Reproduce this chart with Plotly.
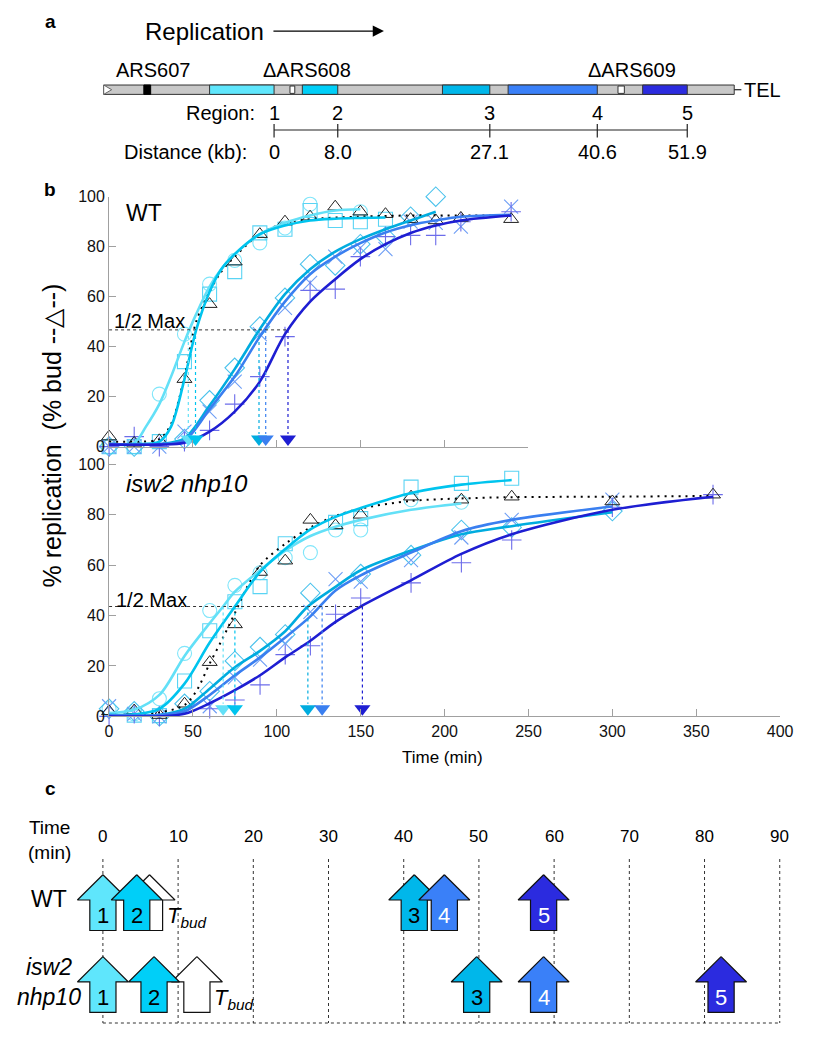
import plotly.graph_objects as go

W, H = 818, 1050
FONT = "Liberation Sans, Arial, sans-serif"

# colours: boxes (a) and arrows (c), fitted curves (b), open data symbols (b)
REGION_FILL = ["#5fe6fc", "#00cff8", "#00b7ea", "#3a80f8", "#2b2bdf"]
CURVE_COLORS = ["#63e0f7", "#00c4ee", "#00acdf", "#3a7ff0", "#1e1ed2"]
MARKER_COLORS = ["#80e6fa", "#5ad4f4", "#4ac2ec", "#6e9ef5", "#6c6cea"]
SYMBOLS = ["circle-open", "square-open", "diamond-open", "x-thin-open", "cross-thin-open"]

# ---------------- panel a : map, kb measured from region 1
REGIONS = ["1", "2", "3", "4", "5"]
DIST_KB = [0, 8.0, 27.1, 40.6, 51.9]
DIST_LABELS = ["0", "8.0", "27.1", "40.6", "51.9"]
REGION_START_KB = [-8.1, 3.55, 21.15, 29.4, 46.3]
CHROM_KB = [-21.4, 57.8]
ARS607_KB = [-16.36, -15.5]
DELETION_KB = [[2.0, 2.6], [43.2, 44.0]]
ARS_LABELS = ["ARS607", "ΔARS608", "ΔARS609"]
ARS_LABEL_KB = [-15.2, 4.1, 45.0]

# ---------------- panel b : % replication, WT
WT_TIME = [0, 15, 30, 45, 60, 75, 90, 105, 120, 135, 150, 165, 180, 195, 210, 240]
WT_R1 = [0, 0, 21, 45, 65, 74.5, 81.5, 87.5, 97, 100.5, 94, None, None, None, None, None]
WT_R2 = [0, 0, 2, 34, 61, 70, 85.5, 87, 94.5, 90.5, 90, 91, None, None, None, None]
WT_R3 = [0, 0, -1, 3, 18.5, 31.5, 48, 59.5, 73, 72.5, 81, 84, 92, 100, None, None]
WT_R4 = [0, 0, 0, 6, 14, 26, 45, 55.5, 65.5, 76, 79.5, 79, 90, 89.5, 88, 96]
WT_R5 = [0, 4, 0, 2, 6.5, 17, 28, 44, 62.5, 63, 76, 84, 84.5, 84.5, 90, 94]
WT_BUD = [4, 1.5, 2.5, 27, 57, 74, 85, 90, 92, 96, 94, 93, 91, 90.5, 91.5, 91]

WT_FIT1_T = [0, 15, 22, 30, 37, 45, 52, 60, 67, 75, 90, 105, 120, 135, 150]
WT_FIT1_V = [0.8, 1.5, 8, 17, 28, 42, 53, 64, 71, 77, 85, 89.5, 92.5, 94.5, 95]
WT_FIT2_T = [0, 15, 30, 37, 45, 52, 60, 67, 75, 90, 105, 120, 135, 150, 165]
WT_FIT2_V = [1, 1, 2, 8, 27, 46.7, 62, 71, 77, 85, 88.5, 90.5, 91.2, 91.5, 91.7]
WT_FIT3_T = [0, 30, 45, 60, 75, 90, 105, 120, 135, 150, 165, 180, 195]
WT_FIT3_V = [1, 1, 3.3, 16.4, 31, 47, 61, 71, 78, 83, 87, 90.5, 94]
WT_FIT4_T = [0, 30, 45, 60, 75, 90, 105, 120, 135, 150, 165, 180, 195, 210, 240]
WT_FIT4_V = [1, 1, 2.5, 15, 28, 44, 58, 69, 76, 81.4, 85.7, 88.6, 90.5, 92, 92.8]
WT_FIT5_T = [0, 30, 45, 60, 75, 90, 105, 120, 135, 150, 165, 180, 195, 210, 240]
WT_FIT5_V = [0.8, 0.8, 1.5, 6, 14, 26, 45, 58, 67, 75, 81, 85.5, 88.5, 90.5, 92.5]
WT_BUDFIT_T = [0, 15, 30, 37, 45, 52, 60, 67, 75, 90, 105, 120, 150, 180, 210, 240]
WT_BUDFIT_V = [2, 2, 3, 9, 28, 50, 62, 70, 76, 85, 89.5, 91, 92, 92.5, 92.5, 92.5]

WT_HALF = 46.7
WT_HALF_T = [47.3, 51.6, 89.5, 93.5, 106.8]

# ---------------- panel b : % replication, isw2 nhp10
MUT_TIME = [0, 15, 30, 45, 60, 75, 90, 105, 120, 135, 150, 180, 210, 240, 300, 360]
MUT_R1 = [3, 1, 7, 25, 42, 52, 57, 63, 65, 74, 74, 86, 85, None, None, None]
MUT_R2 = [-0.5, 0.5, 0.3, 14, 34, 45.5, 51.5, 68.5, None, 77, 78.5, 91, 92.5, 94.5, None, None]
MUT_R3 = [3, 2, 0, 5, 10, 22, 27.5, 32.5, 49, None, 56.5, 64, 74, 75, 81.5, None]
MUT_R4 = [4, 1, 0, -0.5, 4, 15.5, 22.5, 29, 41.5, 54.5, 53.5, 62, 71, 78, 86, None]
MUT_R5 = [0, 1, 0, -1, 3, 6.5, 12.5, 24.5, 28, 40.5, 47, 53, 61, 70, 83, 88]
MUT_BUD = [2, 2.3, 0.5, 5, 21.5, 36.5, 57.3, 61.8, 78, 75.8, 80, 87.2, 86, 87.2, 85.3, 88]

MUT_FIT1_T = [0, 15, 30, 45, 60, 68, 75, 90, 105, 120, 135, 150, 180, 210]
MUT_FIT1_V = [1.3, 2.6, 8.5, 24, 37, 43.6, 49.5, 58, 65.8, 71.6, 75.3, 78, 82, 84.5]
MUT_FIT2_T = [0, 15, 30, 45, 60, 75, 90, 105, 120, 135, 150, 180, 210, 240]
MUT_FIT2_V = [0.5, 0.8, 3, 13, 29.3, 43.6, 57.3, 66.4, 74.2, 79.2, 82.7, 88.7, 92, 93.8]
MUT_FIT3_T = [0, 30, 45, 60, 75, 90, 105, 118.5, 135, 150, 180, 210, 240, 300]
MUT_FIT3_V = [0.5, 0.5, 3, 11, 19.5, 26, 33.8, 43.6, 51.4, 58, 65.8, 72.3, 75.5, 81]
MUT_FIT4_T = [0, 30, 45, 60, 75, 90, 105, 120, 135, 150, 180, 210, 240, 300]
MUT_FIT4_V = [0.5, 0.5, 2, 8.5, 16.3, 23.4, 31.3, 39.7, 50, 56, 65, 73.5, 78, 83.3]
MUT_FIT5_T = [0, 30, 45, 60, 75, 90, 105, 120, 135, 150, 180, 210, 240, 300, 360]
MUT_FIT5_V = [0, 0, 1, 5.2, 10.4, 16.3, 23.4, 30, 37.5, 43.6, 54, 64.5, 72.3, 82, 87.2]
MUT_BUDFIT_T = [0, 15, 30, 45, 52, 60, 67, 75, 82, 90, 105, 120, 135, 150, 180, 210, 240, 300, 360]
MUT_BUDFIT_V = [0.5, 0.8, 1.5, 4.5, 10, 21, 30, 41, 51, 60, 68.5, 75, 79.5, 82.5, 85.5, 86.5, 87, 87.2, 87.5]

MUT_HALF = 43.6
MUT_HALF_T = [68, 75, 118.5, 127, 151]

# ---------------- panel c : time of half-max replication relative to region 1
WT_SHIFT = [0, 4.5, 41.4, 45.4, 58.6]
WT_TBUD = 6.2
MUT_SHIFT = [0, 6.8, 49.7, 58.6, 82.2]
MUT_TBUD = 12.5
C_TICKS = [0, 10, 20, 30, 40, 50, 60, 70, 80, 90]


def fx(px):
    return px / W


def fy(py):
    return 1 - py / H


fig = go.Figure()

# ---------- panel b traces
def add_growth(xa, ya, time, marks, bud, fits, budfit, half, half_t):
    for i, vals in enumerate(marks):
        fig.add_trace(go.Scatter(
            x=time, y=vals, mode="markers", xaxis=xa, yaxis=ya, cliponaxis=False,
            marker=dict(symbol=SYMBOLS[i], size=14 if i != 2 else 15, color=MARKER_COLORS[i],
                        line=dict(width=1.1, color=MARKER_COLORS[i]))))
    fig.add_trace(go.Scatter(
        x=time, y=bud, mode="markers", xaxis=xa, yaxis=ya, cliponaxis=False,
        marker=dict(symbol="triangle-up-open", size=13, color="#222",
                    line=dict(width=1, color="#222"))))
    fig.add_trace(go.Scatter(
        x=budfit[0], y=budfit[1], mode="lines", xaxis=xa, yaxis=ya,
        line=dict(color="black", width=2, dash="2px,5px", shape="spline", smoothing=0.9)))
    for i, (t, v) in enumerate(fits):
        fig.add_trace(go.Scatter(
            x=t, y=v, mode="lines", xaxis=xa, yaxis=ya, cliponaxis=False,
            line=dict(color=CURVE_COLORS[i], width=2.6, shape="spline", smoothing=0.9)))
    # half max guide
    fig.add_trace(go.Scatter(
        x=[0, max(half_t)], y=[half, half], mode="lines", xaxis=xa, yaxis=ya,
        line=dict(color="#333", width=1, dash="dot")))
    for i, t in enumerate(half_t):
        fig.add_trace(go.Scatter(
            x=[t, t], y=[half, 5], mode="lines", xaxis=xa, yaxis=ya,
            line=dict(color=CURVE_COLORS[i], width=1.2, dash="dot")))
        fig.add_trace(go.Scatter(
            x=[t], y=[3], mode="markers", xaxis=xa, yaxis=ya, cliponaxis=False,
            marker=dict(symbol="triangle-down", size=14, color=CURVE_COLORS[i])))


add_growth("x", "y", WT_TIME, [WT_R1, WT_R2, WT_R3, WT_R4, WT_R5], WT_BUD,
           [(WT_FIT1_T, WT_FIT1_V), (WT_FIT2_T, WT_FIT2_V), (WT_FIT3_T, WT_FIT3_V),
            (WT_FIT4_T, WT_FIT4_V), (WT_FIT5_T, WT_FIT5_V)],
           (WT_BUDFIT_T, WT_BUDFIT_V), WT_HALF, WT_HALF_T)
add_growth("x2", "y2", MUT_TIME, [MUT_R1, MUT_R2, MUT_R3, MUT_R4, MUT_R5], MUT_BUD,
           [(MUT_FIT1_T, MUT_FIT1_V), (MUT_FIT2_T, MUT_FIT2_V), (MUT_FIT3_T, MUT_FIT3_V),
            (MUT_FIT4_T, MUT_FIT4_V), (MUT_FIT5_T, MUT_FIT5_V)],
           (MUT_BUDFIT_T, MUT_BUDFIT_V), MUT_HALF, MUT_HALF_T)

# ---------- panel c : dotted time grid + arrows (y3 is measured in page pixels)
GRID_TOP, GRID_BOT = 865, 1031.7
gx, gy = [], []
for t in C_TICKS:
    gx += [t, t, None]
    gy += [GRID_TOP, GRID_BOT, None]
gx += [C_TICKS[0], C_TICKS[-1]]
gy += [GRID_BOT, GRID_BOT]
fig.add_trace(go.Scatter(x=gx, y=gy, mode="lines", xaxis="x3", yaxis="y3",
                         line=dict(color="#333", width=1, dash="dot")))

HEAD_HW, SHAFT_HW = 3.39, 1.74     # minutes
HEAD_H, SHAFT_H = 25.7, 31.0       # pixels


def arrow(t, tip, fill):
    sh, bt = tip + HEAD_H, tip + HEAD_H + SHAFT_H
    xs = [t, t + HEAD_HW, t + SHAFT_HW, t + SHAFT_HW, t - SHAFT_HW, t - SHAFT_HW, t - HEAD_HW, t]
    ys = [tip, sh, sh, bt, bt, sh, sh, tip]
    fig.add_trace(go.Scatter(x=xs, y=ys, mode="lines", fill="toself", fillcolor=fill,
                             xaxis="x3", yaxis="y3", line=dict(color="#111", width=1.2)))


def note(x, y, text, size, xref="paper", yref="y3", xanchor="center", **kw):
    d = dict(x=x, y=y, xref=xref, yref=yref, text=text, showarrow=False,
             xanchor=xanchor, yanchor="middle", font=dict(size=size, color=kw.pop("color", "black")))
    d.update(kw)
    return d


ROW_TIP = {"wt": 881, "mut": 964.3}
annotations = []
for key, shifts, tbud in (("wt", WT_SHIFT, WT_TBUD), ("mut", MUT_SHIFT, MUT_TBUD)):
    tip = ROW_TIP[key]
    arrow(tbud, tip, "white")
    annotations.append(note(tbud + 2.0, tip + 43, "<i>T<sub>bud</sub></i>", 22,
                            xref="x3", xanchor="left"))
    for i, t in enumerate(shifts):
        arrow(t, tip, REGION_FILL[i])
        annotations.append(note(t, tip + 41, REGIONS[i], 22, xref="x3",
                                color="black" if i < 3 else "white"))

for t in C_TICKS:
    annotations.append(note(t, 841.7, str(t), 17, xref="x3"))

# ---------- panel a : chromosome map
shapes = []
BAR_T, BAR_B = 78.3, 87.8
BAR_MID = (BAR_T + BAR_B) / 2
shapes.append(dict(type="rect", xref="x4", yref="y3", x0=CHROM_KB[0], x1=CHROM_KB[1],
                   y0=BAR_T, y1=BAR_B, fillcolor="#c8c8c8", line=dict(color="#333", width=1)))
shapes.append(dict(type="path", xref="x4", yref="y3",
                   path=f"M {CHROM_KB[0]},{BAR_T} L {CHROM_KB[0] + 1.0},{BAR_MID} "
                        f"L {CHROM_KB[0]},{BAR_B} Z",
                   fillcolor="white", line=dict(color="#666", width=1)))
shapes.append(dict(type="rect", xref="x4", yref="y3", x0=ARS607_KB[0], x1=ARS607_KB[1],
                   y0=BAR_T, y1=BAR_B, fillcolor="black", line=dict(color="black", width=1)))
for x0, x1 in DELETION_KB:
    shapes.append(dict(type="rect", xref="x4", yref="y3", x0=x0, x1=x1, y0=BAR_T + 1, y1=BAR_B - 1,
                       fillcolor="white", line=dict(color="#333", width=1)))
for i in range(5):
    shapes.append(dict(type="rect", xref="x4", yref="y3", x0=REGION_START_KB[i], x1=DIST_KB[i],
                       y0=BAR_T, y1=BAR_B, fillcolor=REGION_FILL[i],
                       line=dict(color="#333", width=1)))
shapes.append(dict(type="line", xref="x4", yref="y3", x0=CHROM_KB[1], x1=CHROM_KB[1] + 0.9,
                   y0=BAR_MID, y1=BAR_MID, line=dict(color="#222", width=1.2)))
# region / distance scale
shapes.append(dict(type="line", xref="x4", yref="y3", x0=DIST_KB[0], x1=DIST_KB[-1],
                   y0=124, y1=124, line=dict(color="#222", width=1.2)))
for d in DIST_KB:
    shapes.append(dict(type="line", xref="x4", yref="y3", x0=d, x1=d, y0=118, y1=131.7,
                       line=dict(color="#222", width=1.2)))

for lab, kb in zip(ARS_LABELS, ARS_LABEL_KB):
    annotations.append(note(kb, 63, lab, 20, xref="x4"))
for i in range(5):
    annotations.append(note(DIST_KB[i], 106.7, REGIONS[i], 20, xref="x4"))
    annotations.append(note(DIST_KB[i], 146.5, DIST_LABELS[i], 20, xref="x4"))
annotations += [
    note(CHROM_KB[1] + 1.0, BAR_MID, "TEL", 20, xref="x4", xanchor="left"),
    note(fx(258.8), 106.7, "Region:", 20, xanchor="right"),
    note(fx(250.5), 146.5, "Distance (kb):", 20, xanchor="right"),
    note(fx(204.5), 23.5, "Replication", 24),
    dict(x=fx(388), y=23.5, xref="paper", yref="y3", ax=-112, ay=0, text="", showarrow=True,
         arrowhead=2, arrowsize=1.6, arrowwidth=1.4, arrowcolor="black"),
    # panel letters
    note(fx(47), 14, "<b>a</b>", 19),
    note(fx(47), 184, "<b>b</b>", 19),
    note(fx(47), 793, "<b>c</b>", 19),
    # panel b texts
    note(fx(123), 208, "WT", 23, xanchor="left"),
    note(fx(123), 483, "<i>isw2 nhp10</i>", 24, xanchor="left"),
    note(fx(110.7), 318, "1/2 Max", 20, xanchor="left"),
    note(fx(112.7), 601.7, "1/2 Max", 20, xanchor="left"),
    note(fx(50), 434.5, "% replication  (% bud --\u25b3--)", 25, textangle=-90),
    note(fx(447.5), 762, "Time (min)", 17),
    # panel c row labels
    note(fx(46), 846, "Time<br>(min)", 19),
    note(fx(46), 906, "WT", 23),
    note(fx(46), 990, "<i>isw2<br>nhp10</i>", 23),
]

axis_style = dict(showline=True, linecolor="#a0a0a0", linewidth=1, ticks="inside", ticklen=7,
                  tickcolor="#a0a0a0", showgrid=False, zeroline=False,
                  tickfont=dict(size=16, color="#111"))

fig.update_layout(
    width=W, height=H, margin=dict(l=0, r=0, t=0, b=0),
    paper_bgcolor="white", plot_bgcolor="rgba(0,0,0,0)", showlegend=False,
    font=dict(family=FONT, color="black"),
    xaxis=dict(domain=[fx(107.3), fx(535)], range=[0, 250], anchor="y",
               tickvals=[0, 50, 100, 150, 200, 250], showticklabels=False, **axis_style),
    yaxis=dict(domain=[fy(445.8), fy(191.8)], range=[0, 100], anchor="x",
               tickvals=[0, 20, 40, 60, 80, 100], **axis_style),
    xaxis2=dict(domain=[fx(107.3), fx(792.6)], range=[0, 400], anchor="y2",
                tickvals=[0, 50, 100, 150, 200, 250, 300, 350, 400], **axis_style),
    yaxis2=dict(domain=[fy(720), fy(455)], range=[0, 103.5], anchor="x2",
                tickvals=[0, 20, 40, 60, 80, 100], **axis_style),
    xaxis3=dict(domain=[0, 1], range=[-101 / 7.68, (W - 101) / 7.68], anchor="y3", visible=False),
    yaxis3=dict(domain=[0, 1], range=[H, 0], anchor="x3", visible=False),
    xaxis4=dict(domain=[0, 1], range=[-275.8 / 8.13, (W - 275.8) / 8.13], anchor="y3",
                visible=False),
    shapes=shapes, annotations=annotations,
)

# dummy point so that the panel a axis pair exists
fig.add_trace(go.Scatter(x=[DIST_KB[0]], y=[-50], mode="markers", xaxis="x4", yaxis="y3",
                         marker=dict(size=1, color="rgba(0,0,0,0)")))

fig.write_html("out.html", config={"displayModeBar": False},
               post_script="document.body.style.margin='0px';document.body.style.overflow='hidden';")
